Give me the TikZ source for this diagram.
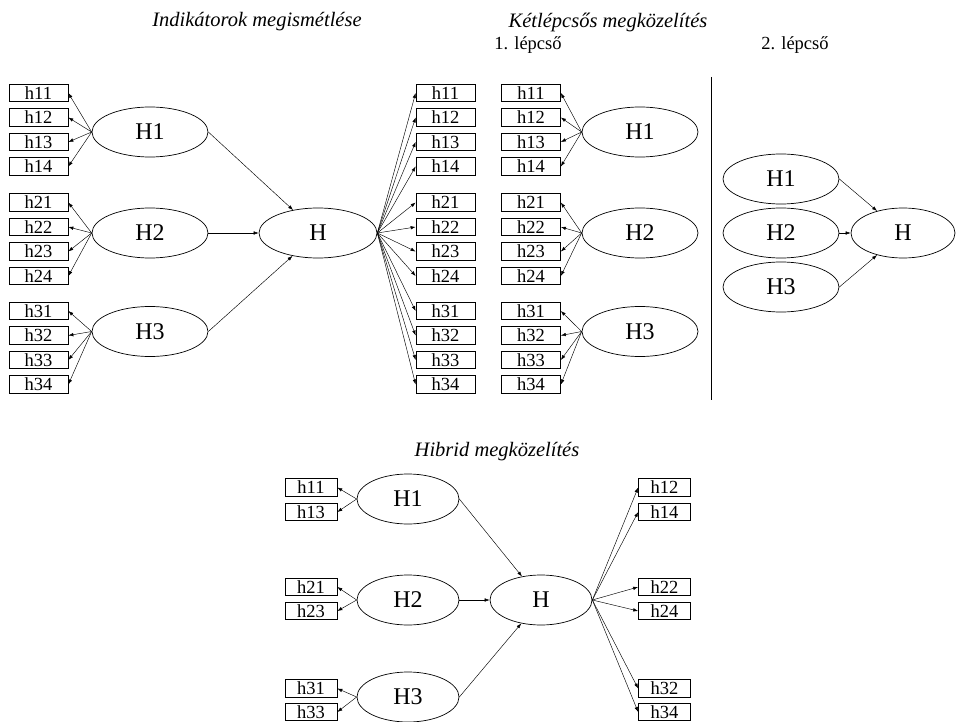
\documentclass[tikz,border=0pt]{standalone}
\usepackage{fontspec}
\setmainfont{Liberation Serif}
\usepackage{tikz}
\usetikzlibrary{arrows.meta,shapes.geometric}

\begin{document}
\begin{tikzpicture}[x=1pt,y=-1pt,
    ind/.style={draw,line width=0.7pt,minimum width=59pt,minimum height=17.5pt,
                inner sep=0pt,font=\fontsize{18.5}{18}\selectfont},
    lat/.style={draw,ellipse,line width=0.7pt,minimum width=116pt,minimum height=50pt,
                inner sep=0pt,font=\fontsize{24}{24}\selectfont},
    ttl/.style={font=\fontsize{20.5}{22}\selectfont\itshape},
    ar/.style={-{Latex[length=5pt,width=3.5pt]},line width=0.45pt}]
  \useasboundingbox (0,0) rectangle (956,722);

  \node[ttl] (t1) at (257,22) {Indikátorok megismétlése};
  \node[ttl] (t2) at (608,22) {Kétlépcsős megközelítés};
  \node[font=\fontsize{18.5}{20}\selectfont] (s1) at (528,45) {1. lépcső};
  \node[font=\fontsize{18.5}{20}\selectfont] (s2) at (795,45) {2. lépcső};
  \node[ttl] (t3) at (497,452) {Hibrid megközelítés};

  % indikatorok megismetlese + 1. lepcso
  \node[lat,minimum width=118pt] (aH) at (318,233) {H};
  \foreach \g/\y/\e in {1/93/132,2/202.5/233,3/311/331.5} {
    \node[lat] (aH\g) at (150,\e) {H\g};
    \node[lat] (cH\g) at (640,\e) {H\g};
    \draw[ar] (aH\g.east) -- (aH);
    \foreach \i in {1,...,4} {
      \node[ind] (a\g\i) at (38.5,{\y+24.5*(\i-1)}) {h\g\i};
      \node[ind] (b\g\i) at (445.5,{\y+24.5*(\i-1)}) {h\g\i};
      \node[ind] (c\g\i) at (531,{\y+24.5*(\i-1)}) {h\g\i};
      \draw[ar] (aH\g.west) -- (a\g\i.east);
      \draw[ar] (aH.east) -- (b\g\i.west);
      \draw[ar] (cH\g.west) -- (c\g\i.east);
    }
  }

  \coordinate (v1) at (711,77);
  \coordinate (v2) at (711,400);
  \draw[line width=0.7pt] (v1) -- (v2);

  % 2. lepcso
  \node[lat,minimum width=104pt] (dH) at (903,233) {H};
  \foreach \g/\e in {1/179,2/233,3/287} {
    \node[lat] (dH\g) at (781,\e) {H\g};
    \draw[ar] (dH\g.east) -- (dH);
  }

  % hibrid
  \node[lat,minimum width=102pt] (eH) at (541,600) {H};
  \foreach \g/\e/\ya/\yb in {1/499/487.5/512,2/600/587/611,3/697/688.5/712} {
    \node[lat,minimum width=102pt] (eH\g) at (408,\e) {H\g};
    \node[ind,minimum width=52pt] (e\g1) at (311,\ya) {h\g1};
    \node[ind,minimum width=52pt] (e\g3) at (311,\yb) {h\g3};
    \node[ind,minimum width=52pt] (e\g2) at (664.5,\ya) {h\g2};
    \node[ind,minimum width=52pt] (e\g4) at (664.5,\yb) {h\g4};
    \draw[ar] (eH\g.west) -- (e\g1.east);
    \draw[ar] (eH\g.west) -- (e\g3.east);
    \draw[ar] (eH.east) -- (e\g2.west);
    \draw[ar] (eH.east) -- (e\g4.west);
    \draw[ar] (eH\g.east) -- (eH);
  }
\end{tikzpicture}
\end{document}
